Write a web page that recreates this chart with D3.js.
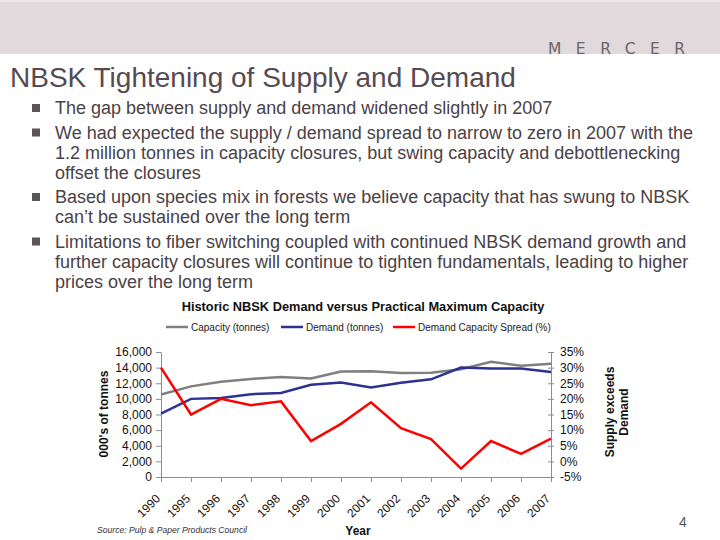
<!DOCTYPE html>
<html>
<head>
<meta charset="utf-8">
<script src="https://cdn.jsdelivr.net/npm/d3@7"></script>
<style>
  body { margin: 0; background: #fff; }
  svg { display: block; font-family: "Liberation Sans", Arial, sans-serif; }
</style>
</head>
<body>
<div id="slide"></div>
<script>
const WIDTH = 720, HEIGHT = 540;

// chart data
const years = ["1990", "1995", "1996", "1997", "1998", "1999", "2000", "2001", "2002", "2003", "2004", "2005", "2006", "2007"];
const capacity = [10550, 11600, 12200, 12550, 12800, 12600, 13500, 13550, 13300, 13350, 13800, 14750, 14250, 14500];
const demand = [8100, 10000, 10100, 10600, 10750, 11800, 12100, 11450, 12050, 12500, 14000, 13900, 13900, 13450];
const spread = [30, 15, 20, 18, 19.2, 6.5, 12, 18.9, 10.6, 7.1, -2.3, 6.5, 2.4, 7.3];
const leftTicks = [0, 2000, 4000, 6000, 8000, 10000, 12000, 14000, 16000];
const rightTicks = [-5, 0, 5, 10, 15, 20, 25, 30, 35];

const bullets = [
  ["The gap between supply and demand widened slightly in 2007"],
  ["We had expected the supply / demand spread to narrow to zero in 2007 with the",
   "1.2 million tonnes in capacity closures, but swing capacity and debottlenecking",
   "offset the closures"],
  ["Based upon species mix in forests we believe capacity that has swung to NBSK",
   "can\u2019t be sustained over the long term"],
  ["Limitations to fiber switching coupled with continued NBSK demand growth and",
   "further capacity closures will continue to tighten fundamentals, leading to higher",
   "prices over the long term"]
];

const svg = d3.select("#slide").append("svg")
    .attr("width", WIDTH)
    .attr("height", HEIGHT);

// header band + logo
svg.append("rect").attr("x", 0).attr("y", 0).attr("width", WIDTH).attr("height", 54).attr("fill", "#e1d9db");
svg.append("rect").attr("x", 0).attr("y", 0).attr("width", WIDTH).attr("height", 2).attr("fill", "#ece6e8");
svg.append("text")
    .attr("x", 548).attr("y", 54)
    .attr("font-size", 15.5)
    .attr("letter-spacing", 14.5)
    .attr("fill", "#6d6468")
    .style("font-family", "'DejaVu Sans', sans-serif")
    .text("MERCER");

svg.append("text")
    .attr("x", 10).attr("y", 87)
    .attr("font-size", 28)
    .attr("fill", "#574a50")
    .text("NBSK Tightening of Supply and Demand");

// bullet list
var baseY = 114;
bullets.forEach((lines, i) => {
  svg.append("rect")
      .attr("x", 32).attr("y", baseY - 10)
      .attr("width", 8).attr("height", 8)
      .attr("fill", "#5d5458");
  lines.forEach((l, j) => {
    svg.append("text")
        .attr("x", 55).attr("y", baseY + j * 20)
        .attr("font-size", 18)
        .attr("fill", "#4a4246")
        .text(l);
  });
  baseY += (lines.length - 1) * 20 + 24.5;
});

// chart
const x = d3.scalePoint().domain(years).range([161, 551]);
const yL = d3.scaleLinear().domain([0, 16000]).range([477, 352]);
const yR = d3.scaleLinear().domain([-5, 35]).range([477, 352]);

const chart = svg.append("g").attr("font-family", "'Liberation Sans', Arial, sans-serif");

chart.append("text")
    .attr("x", 363).attr("y", 311)
    .attr("text-anchor", "middle")
    .attr("font-size", 12.8)
    .attr("font-weight", "bold")
    .attr("fill", "#111")
    .text("Historic NBSK Demand versus Practical Maximum Capacity");

// legend
const legendItems = [
  { name: "Capacity (tonnes)", color: "#7f7f7f", x: 166 },
  { name: "Demand (tonnes)", color: "#2e3192", x: 281 },
  { name: "Demand Capacity Spread (%)", color: "#ff0000", x: 393 }
];
const leg = chart.selectAll(".leg").data(legendItems).enter().append("g")
    .attr("class", "leg")
    .attr("transform", d => "translate(" + d.x + ",327)");
leg.append("line").attr("x1", 0).attr("x2", 22).attr("y1", 0).attr("y2", 0)
    .attr("stroke", d => d.color).attr("stroke-width", 2.5);
leg.append("text").attr("x", 25).attr("y", 3.5)
    .attr("font-size", 10).attr("fill", "#222")
    .text(d => d.name);

const styleAxis = (g) => {
  g.select(".domain").attr("stroke", "#8c8c8c");
  g.selectAll(".tick line").attr("stroke", "#8c8c8c");
  g.selectAll(".tick text").attr("fill", "#111").attr("font-size", 12)
    .attr("font-family", "'Liberation Sans', Arial, sans-serif");
};

chart.append("g")
    .attr("transform", "translate(161,0)")
    .call(d3.axisLeft(yL).tickValues(leftTicks).tickFormat(d3.format(",")).tickSizeInner(5).tickSizeOuter(0).tickPadding(4))
    .call(styleAxis);

const rAxis = chart.append("g")
    .attr("transform", "translate(551,0)")
    .call(d3.axisRight(yR).tickValues(rightTicks).tickFormat(d => d + "%").tickSizeInner(3).tickSizeOuter(0).tickPadding(6))
    .call(styleAxis);
rAxis.selectAll(".tick line").attr("x1", -3);

const xAxis = chart.append("g")
    .attr("transform", "translate(0,477)")
    .call(d3.axisBottom(x).tickSizeInner(5).tickSizeOuter(0).tickPadding(4))
    .call(styleAxis);
xAxis.selectAll(".tick text")
    .attr("font-size", 12)
    .attr("text-anchor", "end")
    .attr("dy", 0)
    .attr("transform", "translate(-7,16) rotate(-45)");

// series
const lineL = d3.line().x((d, i) => x(years[i])).y(d => yL(d));
const lineR = d3.line().x((d, i) => x(years[i])).y(d => yR(d));

chart.append("path").datum(capacity).attr("d", lineL)
    .attr("fill", "none").attr("stroke", "#7f7f7f").attr("stroke-width", 2.5);
chart.append("path").datum(demand).attr("d", lineL)
    .attr("fill", "none").attr("stroke", "#2e3192").attr("stroke-width", 2.5);
chart.append("path").datum(spread).attr("d", lineR)
    .attr("fill", "none").attr("stroke", "#ff0000").attr("stroke-width", 2.5);

// axis titles
chart.append("text")
    .attr("transform", "translate(108,414) rotate(-90)")
    .attr("text-anchor", "middle")
    .attr("font-size", 12).attr("font-weight", "bold").attr("fill", "#111")
    .text("000's of tonnes");

const rt = chart.append("text")
    .attr("transform", "translate(614,412) rotate(-90)")
    .attr("text-anchor", "middle")
    .attr("font-size", 12).attr("font-weight", "bold").attr("fill", "#111");
rt.append("tspan").attr("x", 0).attr("dy", 0).text("Supply exceeds");
rt.append("tspan").attr("x", 0).attr("dy", 14).text("Demand");

chart.append("text")
    .attr("x", 358).attr("y", 535)
    .attr("text-anchor", "middle")
    .attr("font-size", 12).attr("font-weight", "bold").attr("fill", "#111")
    .text("Year");

chart.append("text")
    .attr("x", 97).attr("y", 533)
    .attr("font-size", 8.6).attr("font-style", "italic").attr("fill", "#333")
    .text("Source: Pulp & Paper Products Council");

svg.append("text")
    .attr("x", 683).attr("y", 527)
    .attr("text-anchor", "middle")
    .attr("font-size", 14).attr("fill", "#555")
    .text("4");
</script>
</body>
</html>
